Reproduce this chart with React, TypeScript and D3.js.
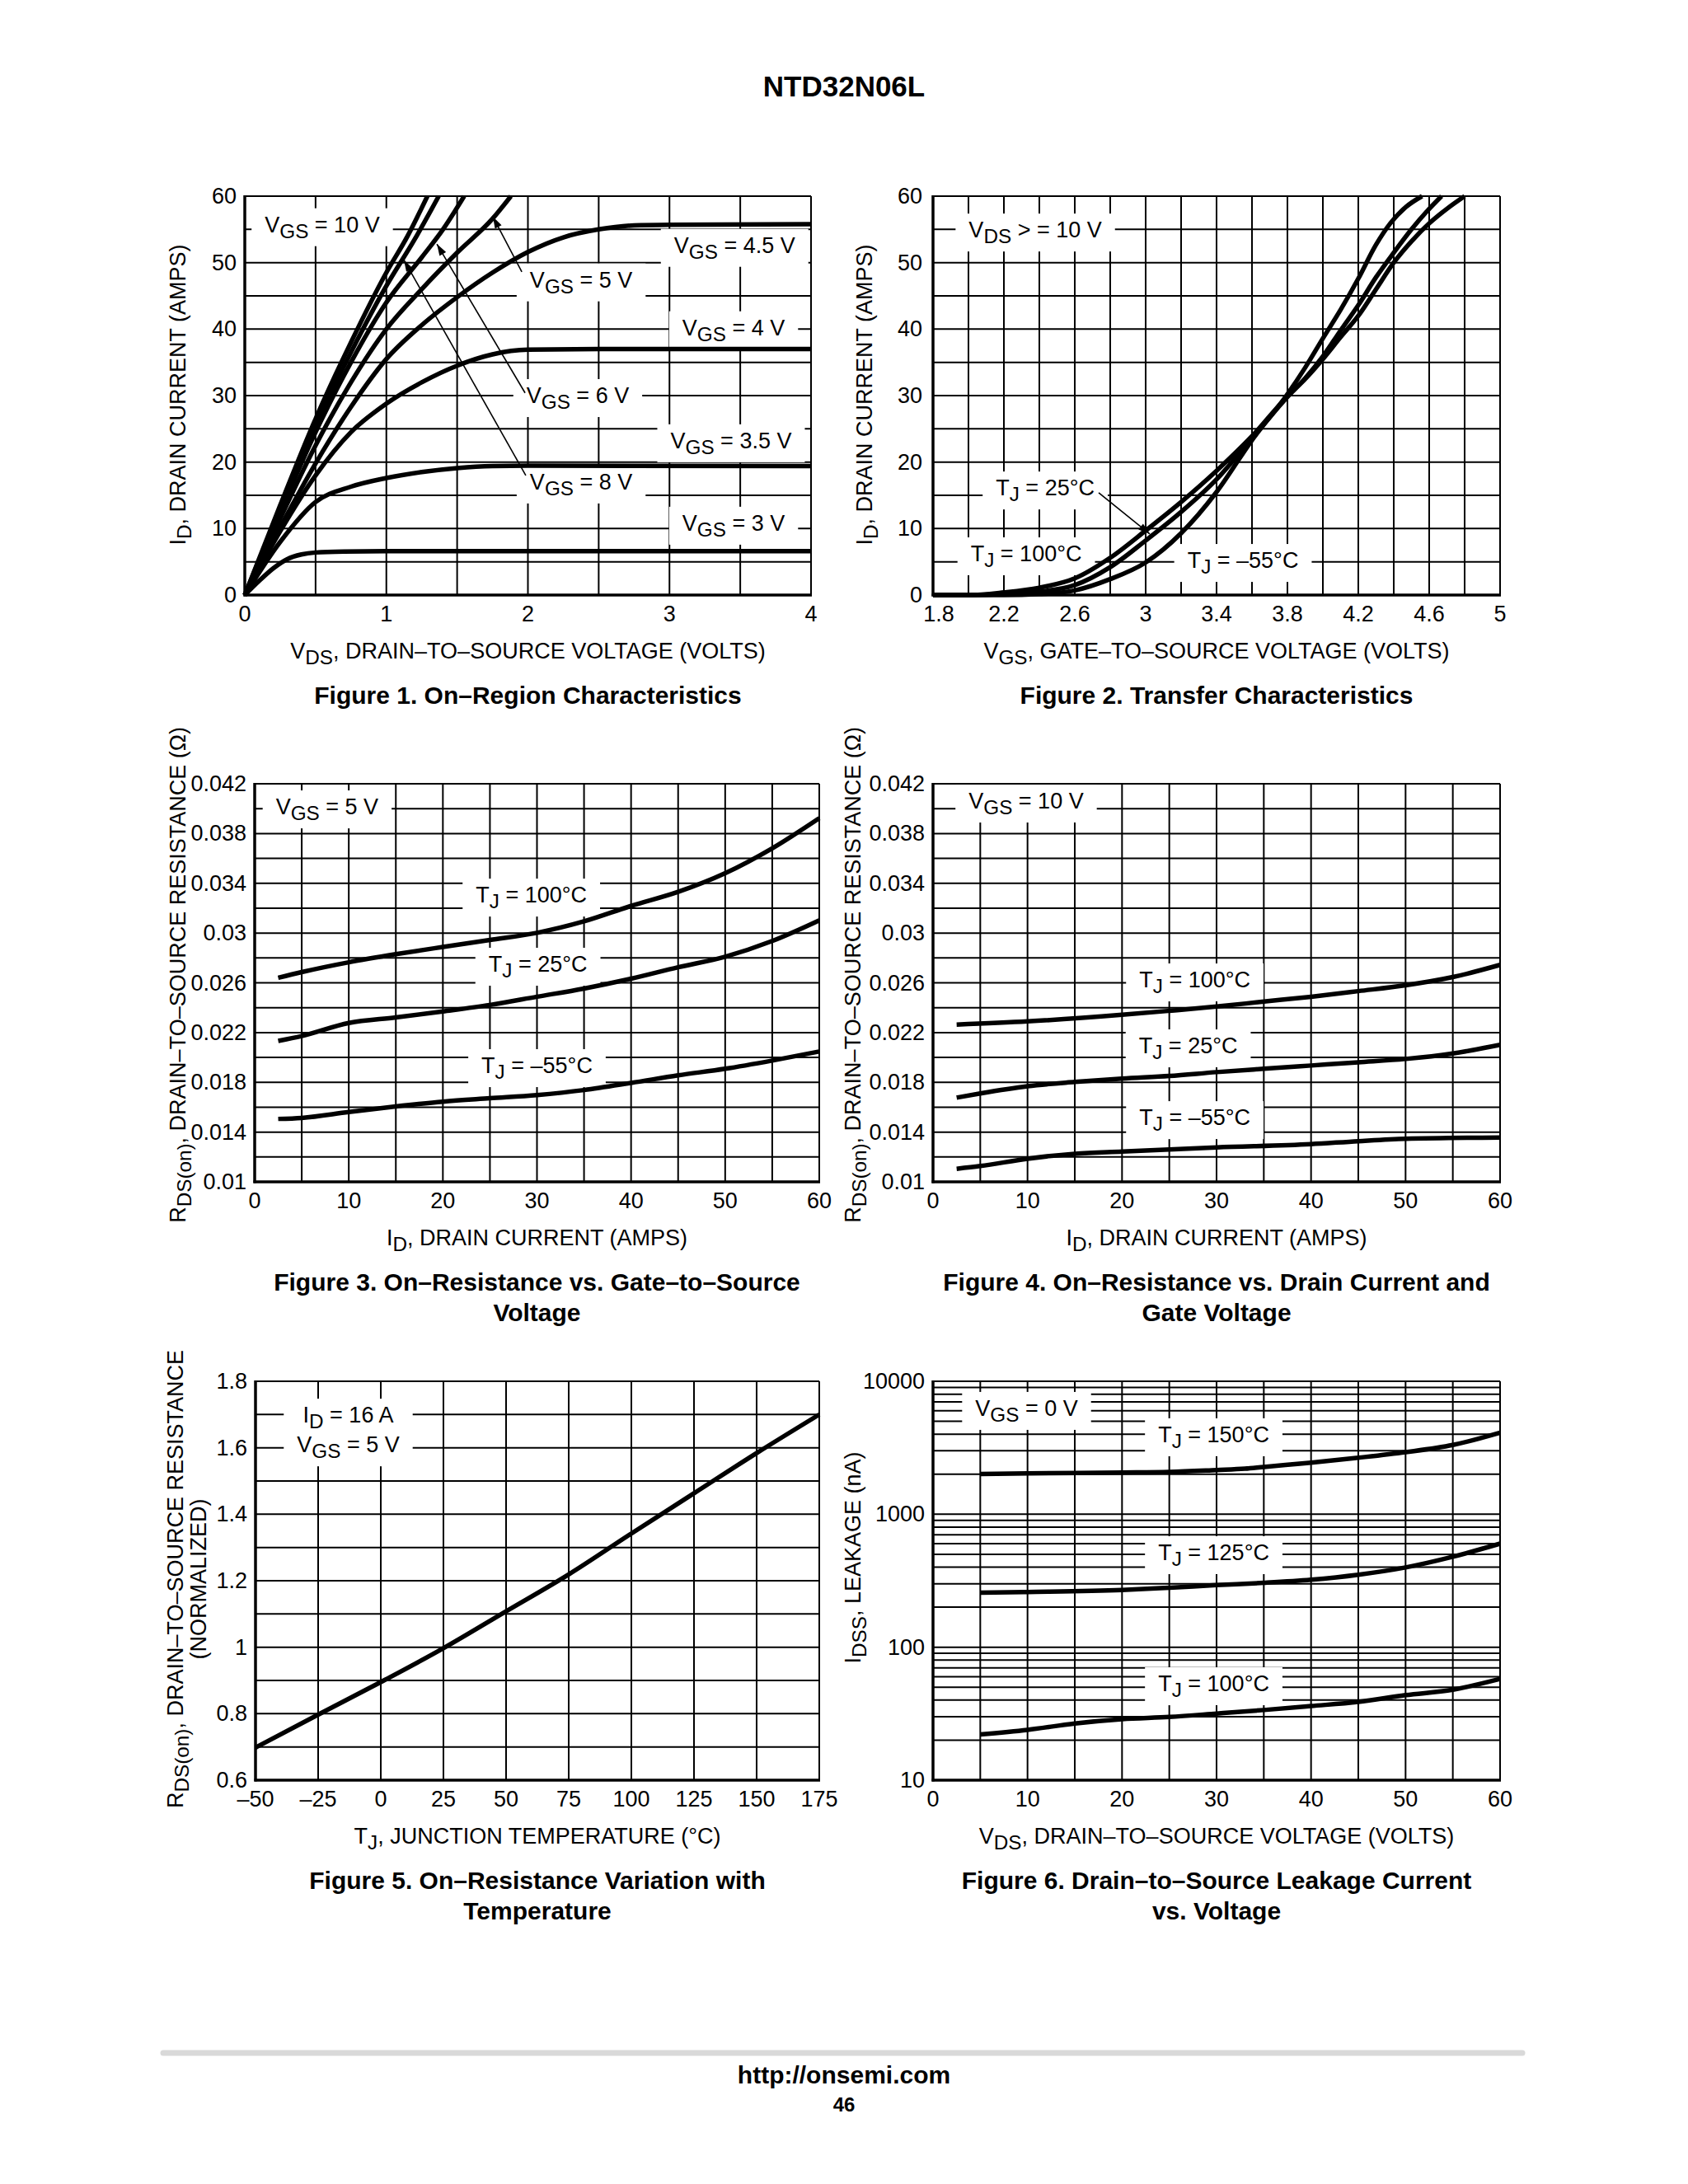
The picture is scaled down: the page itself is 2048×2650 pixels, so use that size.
import { useEffect, useRef } from 'react';
import * as d3 from 'd3';

type Pt = [number, number];
type Part = [string, boolean]; // [text, subscript]

const FONT = "'Liberation Sans', Arial, Helvetica, sans-serif";
const FS = 27;

// ---------- Figure 1: On-Region Characteristics (VDS [V], ID [A]) ----------
const f1XTicks = [0, 1, 2, 3, 4];
const f1YTicks = [0, 10, 20, 30, 40, 50, 60];
const f1Vgs10: Pt[] = [[0, 0], [0.25, 13.5], [0.5, 26.5], [0.75, 38], [1.0, 48.5], [1.15, 54], [1.29, 60]];
const f1Vgs8: Pt[] = [[0, 0], [0.25, 13], [0.5, 25.5], [0.75, 36.5], [1.0, 46.5], [1.2, 53.5], [1.37, 60]];
const f1Vgs6: Pt[] = [[0, 0], [0.25, 12.5], [0.5, 24.5], [0.75, 35], [1.0, 44], [1.25, 50.8], [1.4, 55], [1.55, 60]];
const f1Vgs5: Pt[] = [[0, 0], [0.25, 11.5], [0.5, 22.5], [0.75, 32], [1.0, 40], [1.25, 46], [1.5, 51.5], [1.75, 56.6], [1.88, 60]];
const f1Vgs45: Pt[] = [[0, 0], [0.25, 10.2], [0.5, 19.8], [0.75, 28.3], [1.0, 35.5], [1.25, 40.6], [1.5, 44.8], [1.75, 48.5], [2.0, 51.6], [2.25, 53.8], [2.5, 55], [2.75, 55.6], [3.0, 55.7], [4.0, 55.8]];
const f1Vgs4: Pt[] = [[0, 0], [0.25, 9.6], [0.5, 18], [0.75, 24.5], [1.0, 28.8], [1.25, 32], [1.5, 34.5], [1.75, 36.2], [2.0, 36.9], [2.5, 37], [4.0, 37]];
const f1Vgs35: Pt[] = [[0, 0], [0.25, 8], [0.5, 14], [0.75, 16.3], [1.0, 17.6], [1.25, 18.5], [1.5, 19.1], [1.75, 19.4], [2.0, 19.45], [4.0, 19.4]];
const f1Vgs3: Pt[] = [[0, 0], [0.1, 2.1], [0.2, 4], [0.3, 5.4], [0.4, 6.1], [0.5, 6.4], [0.7, 6.55], [1.0, 6.6], [4.0, 6.6]];

// ---------- Figure 2: Transfer Characteristics (VGS [V], ID [A]) ----------
const f2XTicks = [1.8, 2.2, 2.6, 3, 3.4, 3.8, 4.2, 4.6, 5];
const f2Tj100: Pt[] = [[1.8, 0], [2.0, 0], [2.2, 0.4], [2.4, 1.1], [2.6, 2.5], [2.8, 5.6], [3.0, 9.7], [3.2, 14.0], [3.4, 18.7], [3.6, 23.9], [3.8, 29.9], [3.9, 32.5], [4.0, 35.5], [4.1, 38.8], [4.2, 42], [4.3, 46], [4.4, 50], [4.5, 53.2], [4.6, 55.9], [4.7, 58.1], [4.8, 60]];
const f2Tj25: Pt[] = [[1.8, 0], [2.0, 0], [2.2, 0.15], [2.4, 0.5], [2.6, 1.5], [2.8, 4.2], [3.0, 8.2], [3.2, 12.5], [3.4, 17.4], [3.6, 23.6], [3.8, 29.8], [3.9, 32.6], [4.0, 35.9], [4.1, 39.8], [4.2, 43.6], [4.3, 47.8], [4.4, 51.5], [4.5, 55], [4.59, 57.8], [4.67, 60]];
const f2TjM55: Pt[] = [[1.8, 0], [2.2, 0], [2.4, 0.15], [2.6, 0.7], [2.8, 2.4], [3.0, 4.9], [3.2, 9.3], [3.4, 15.5], [3.6, 23.3], [3.8, 30.2], [3.9, 34.2], [4.0, 38.6], [4.1, 42.9], [4.2, 47.6], [4.3, 52.7], [4.38, 55.9], [4.47, 58.4], [4.56, 60]];

// ---------- Figure 3: RDS(on) vs ID, VGS = 5 V ----------
const idTicks = [0, 10, 20, 30, 40, 50, 60];
const rdsTicks = [0.01, 0.014, 0.018, 0.022, 0.026, 0.03, 0.034, 0.038, 0.042];
const f3Tj100: Pt[] = [[2.5, 0.0264], [5, 0.02686], [10, 0.02765], [15, 0.0283], [20, 0.02888], [25, 0.02944], [30, 0.03002], [35, 0.03094], [40, 0.03218], [45, 0.03331], [50, 0.03481], [55, 0.03681], [60, 0.03923]];
const f3Tj25: Pt[] = [[2.5, 0.02133], [5, 0.02172], [10, 0.02277], [15, 0.02322], [20, 0.0237], [25, 0.02422], [30, 0.02488], [35, 0.02554], [40, 0.02633], [45, 0.02725], [50, 0.0281], [55, 0.02936], [60, 0.03102]];
const f3TjM55: Pt[] = [[2.5, 0.01506], [5, 0.01514], [10, 0.01561], [15, 0.01606], [20, 0.01645], [25, 0.01672], [30, 0.01698], [35, 0.01738], [40, 0.01795], [45, 0.01856], [50, 0.01909], [55, 0.01975], [60, 0.02048]];

// ---------- Figure 4: RDS(on) vs ID, VGS = 10 V ----------
const f4Tj100: Pt[] = [[2.5, 0.02264], [10, 0.0229], [20, 0.02343], [25, 0.02375], [30, 0.02409], [35, 0.02449], [40, 0.02488], [45, 0.02533], [50, 0.0258], [55, 0.02646], [60, 0.02744]];
const f4Tj25: Pt[] = [[2.5, 0.01677], [5, 0.01711], [10, 0.01769], [15, 0.01803], [20, 0.0183], [25, 0.01851], [30, 0.01882], [35, 0.01909], [40, 0.01935], [45, 0.01961], [50, 0.01988], [55, 0.02032], [60, 0.02101]];
const f4TjM55: Pt[] = [[2.5, 0.01105], [5, 0.01127], [10, 0.01186], [15, 0.01226], [20, 0.01244], [30, 0.01277], [40, 0.01303], [45, 0.01327], [50, 0.01346], [60, 0.01356]];

// ---------- Figure 5: normalized RDS(on) vs TJ ----------
const tjTicks = [-50, -25, 0, 25, 50, 75, 100, 125, 150, 175];
const normTicks = [0.6, 0.8, 1, 1.2, 1.4, 1.6, 1.8];
const f5Norm: Pt[] = [[-50, 0.698], [-25, 0.797], [0, 0.895], [25, 0.997], [50, 1.108], [75, 1.219], [100, 1.342], [125, 1.463], [150, 1.584], [175, 1.7]];

// ---------- Figure 6: IDSS leakage vs VDS ----------
const vdsTicks6 = [0, 10, 20, 30, 40, 50, 60];
const leakTicks = [10, 100, 1000, 10000];
const f6Tj150: Pt[] = [[5, 2005], [10, 2030], [20, 2060], [25, 2080], [30, 2150], [33, 2200], [35, 2270], [40, 2440], [45, 2660], [50, 2930], [55, 3320], [60, 4110]];
const f6Tj125: Pt[] = [[5, 257], [10, 260], [20, 269], [25, 280], [30, 293], [35, 305], [40, 322], [45, 351], [50, 398], [55, 479], [60, 601]];
const f6Tj100: Pt[] = [[5, 22.1], [10, 23.9], [15, 26.7], [20, 28.8], [25, 29.9], [30, 31.7], [35, 33.7], [40, 36.1], [45, 38.8], [50, 43.6], [55, 47.9], [60, 57.7]];

const V = (sub: string, rest: string): Part[] => [['V', false], [sub, true], [rest, false]];
const T = (rest: string): Part[] => [['T', false], ['J', true], [rest, false]];
const RDS_TITLE: Part[] = [['R', false], ['DS(on)', true], [', DRAIN\u2013TO\u2013SOURCE RESISTANCE (\u03A9)', false]];

interface Label { x: number; y: number; lines: Part[][] }
interface Chart {
  x: any; y: any;
  xGrid: number[]; yGrid: number[];
  xTicks: number[]; yTicks: number[];
  xFmt: (v: number) => string; yFmt: (v: number) => string;
  firstXDx?: number; yTickGap?: number;
  series: Pt[][];
  labels: Label[];
  arrows: [Pt, Pt][];
  xTitle: Part[];
  yTitles: { parts: Part[]; dx: number }[];
  yTitleCy: number;
  caption: string[];
}

function rich(sel: any, parts: Part[], size: number) {
  let down = false;
  parts.forEach(([s, sub]) => {
    const ts = sel.append('tspan').text(s).attr('font-size', sub ? size * 0.9 : size);
    if (sub && !down) { ts.attr('dy', size * 0.26); down = true; }
    else if (!sub && down) { ts.attr('dy', -size * 0.26); down = false; }
  });
}

function drawChart(svg: any, c: Chart) {
  const [x0, x1] = c.x.range();
  const [yb, yt] = c.y.range();
  const g = svg.append('g');

  const grid = g.append('g').attr('stroke', '#000').attr('stroke-width', 2);
  c.xGrid.forEach(v => grid.append('line').attr('x1', c.x(v)).attr('x2', c.x(v)).attr('y1', yt).attr('y2', yb));
  c.yGrid.forEach(v => grid.append('line').attr('x1', x0).attr('x2', x1).attr('y1', c.y(v)).attr('y2', c.y(v)));
  g.append('line').attr('x1', x0).attr('x2', x0).attr('y1', yt - 1).attr('y2', yb + 1.5).attr('stroke', '#000').attr('stroke-width', 3.5);
  g.append('line').attr('x1', x0 - 1.5).attr('x2', x1 + 1).attr('y1', yb).attr('y2', yb).attr('stroke', '#000').attr('stroke-width', 3.5);

  const boxes = g.append('g');
  const curves = g.append('g');
  const texts = g.append('g').attr('font-family', FONT).attr('fill', '#000').style('white-space', 'pre');

  // in-plot labels with white boxes that cut the grid
  c.labels.forEach(l => {
    const lg = texts.append('g');
    l.lines.forEach((parts, i) => {
      const t = lg.append('text').attr('x', c.x(l.x)).attr('y', c.y(l.y) + 9 + i * 36).attr('text-anchor', 'middle');
      rich(t, parts, FS);
    });
    const bb = (lg.node() as SVGGElement).getBBox();
    boxes.append('rect').attr('x', bb.x - 16).attr('y', bb.y - 5).attr('width', bb.width + 32).attr('height', bb.height + 10).attr('fill', '#fff');
  });

  const line = d3.line<Pt>().x(d => c.x(d[0])).y(d => c.y(d[1])).curve(d3.curveMonotoneX);
  c.series.forEach(s => {
    curves.append('path').attr('d', line(s)).attr('fill', 'none').attr('stroke', '#000')
      .attr('stroke-width', 5.5).attr('stroke-linejoin', 'round').attr('stroke-linecap', 'butt');
  });

  c.arrows.forEach(([from, to]) => {
    curves.append('line').attr('x1', c.x(from[0])).attr('y1', c.y(from[1])).attr('x2', c.x(to[0])).attr('y2', c.y(to[1]))
      .attr('stroke', '#000').attr('stroke-width', 1.6).attr('marker-end', 'url(#arrowHead)');
  });

  const gap = c.yTickGap ?? 10;
  c.yTicks.forEach(v => {
    texts.append('text').attr('x', x0 - gap).attr('y', c.y(v) + 9).attr('text-anchor', 'end').attr('font-size', FS).text(c.yFmt(v));
  });
  c.xTicks.forEach((v, i) => {
    const dx = i === 0 ? (c.firstXDx ?? 0) : 0;
    texts.append('text').attr('x', c.x(v) + dx).attr('y', yb + 32).attr('text-anchor', 'middle').attr('font-size', FS).text(c.xFmt(v));
  });

  const cx = (x0 + x1) / 2;
  rich(texts.append('text').attr('x', cx).attr('y', yb + 77).attr('text-anchor', 'middle'), c.xTitle, FS);
  c.yTitles.forEach(yt2 => {
    const t = texts.append('text').attr('text-anchor', 'middle')
      .attr('transform', `translate(${x0 + yt2.dx},${c.yTitleCy}) rotate(-90)`);
    rich(t, yt2.parts, FS);
  });
  c.caption.forEach((s, i) => {
    texts.append('text').attr('x', cx).attr('y', yb + 132 + i * 37).attr('text-anchor', 'middle')
      .attr('font-size', 30).attr('font-weight', 'bold').text(s);
  });
}

export default function App() {
  const svgRef = useRef<SVGSVGElement>(null);

  useEffect(() => {
    if (!svgRef.current) return;
    const svg = d3.select(svgRef.current);
    svg.selectAll('*').remove();

    svg.append('rect').attr('width', 2048).attr('height', 2650).attr('fill', '#fff');
    svg.append('defs').append('marker').attr('id', 'arrowHead').attr('viewBox', '0 0 14 9')
      .attr('refX', 14).attr('refY', 4.5).attr('markerWidth', 16).attr('markerHeight', 9)
      .attr('markerUnits', 'userSpaceOnUse').attr('orient', 'auto')
      .append('path').attr('d', 'M0,0 L14,4.5 L0,9 Z').attr('fill', '#000');

    svg.append('text').attr('x', 1024).attr('y', 117).attr('text-anchor', 'middle').attr('font-family', FONT)
      .attr('font-weight', 'bold').attr('font-size', 35).text('NTD32N06L');

    const n = (v: number) => String(+v.toFixed(3));
    const grid5 = d3.range(0, 61, 5);
    const rdsGrid = d3.range(0, 17).map(i => 0.01 + i * 0.002);
    const ID_TITLE: Part[] = [['I', false], ['D', true], [', DRAIN CURRENT (AMPS)', false]];

    // Figure 1
    drawChart(svg, {
      x: d3.scaleLinear([0, 4], [297, 984]), y: d3.scaleLinear([0, 60], [722, 238]),
      xGrid: d3.range(0, 9).map(i => i * 0.5), yGrid: d3.range(0, 61, 5),
      xTicks: f1XTicks, yTicks: f1YTicks, xFmt: n, yFmt: n,
      series: [f1Vgs10, f1Vgs8, f1Vgs6, f1Vgs5, f1Vgs45, f1Vgs4, f1Vgs35, f1Vgs3],
      labels: [
        { x: 0.547, y: 55.7, lines: [V('GS', ' = 10 V')] },
        { x: 3.46, y: 52.6, lines: [V('GS', ' = 4.5 V')] },
        { x: 2.376, y: 47.4, lines: [V('GS', ' = 5 V')] },
        { x: 3.453, y: 40.2, lines: [V('GS', ' = 4 V')] },
        { x: 2.352, y: 30.0, lines: [V('GS', ' = 6 V')] },
        { x: 3.435, y: 23.2, lines: [V('GS', ' = 3.5 V')] },
        { x: 2.376, y: 17.0, lines: [V('GS', ' = 8 V')] },
        { x: 3.453, y: 10.8, lines: [V('GS', ' = 3 V')] },
      ],
      arrows: [
        [[1.957, 48.6], [1.753, 56.9]],
        [[1.98, 30.4], [1.357, 52.8]],
        [[1.985, 18.0], [1.124, 50.4]],
      ],
      xTitle: V('DS', ', DRAIN\u2013TO\u2013SOURCE VOLTAGE (VOLTS)'),
      yTitles: [{ parts: ID_TITLE, dx: -72 }], yTitleCy: 479,
      caption: ['Figure 1. On\u2013Region Characteristics'],
    });

    // Figure 2
    drawChart(svg, {
      x: d3.scaleLinear([1.8, 5], [1132, 1820]), y: d3.scaleLinear([0, 60], [722, 238]),
      xGrid: d3.range(0, 17).map(i => 1.8 + i * 0.2), yGrid: d3.range(0, 61, 5),
      xTicks: f2XTicks, yTicks: f1YTicks, xFmt: n, yFmt: n, firstXDx: 7, yTickGap: 13,
      series: [f2Tj100, f2Tj25, f2TjM55],
      labels: [
        { x: 2.377, y: 54.9, lines: [V('DS', ' > = 10 V')] },
        { x: 2.433, y: 16.1, lines: [T(' = 25\u00B0C')] },
        { x: 2.326, y: 6.2, lines: [T(' = 100\u00B0C')] },
        { x: 3.549, y: 5.2, lines: [T(' = \u201355\u00B0C')] },
      ],
      arrows: [[[2.735, 15.4], [3.023, 9.2]]],
      xTitle: V('GS', ', GATE\u2013TO\u2013SOURCE VOLTAGE (VOLTS)'),
      yTitles: [{ parts: ID_TITLE, dx: -74 }], yTitleCy: 479,
      caption: ['Figure 2. Transfer Characteristics'],
    });

    // Figure 3
    drawChart(svg, {
      x: d3.scaleLinear([0, 60], [309, 994]), y: d3.scaleLinear([0.01, 0.042], [1434, 951]),
      xGrid: grid5, yGrid: rdsGrid,
      xTicks: idTicks, yTicks: rdsTicks, xFmt: n, yFmt: n,
      series: [f3Tj100, f3Tj25, f3TjM55],
      labels: [
        { x: 7.7, y: 0.04014, lines: [V('GS', ' = 5 V')] },
        { x: 29.4, y: 0.03305, lines: [T(' = 100\u00B0C')] },
        { x: 30.1, y: 0.02749, lines: [T(' = 25\u00B0C')] },
        { x: 30.0, y: 0.01934, lines: [T(' = \u201355\u00B0C')] },
      ],
      arrows: [],
      xTitle: ID_TITLE,
      yTitles: [{ parts: RDS_TITLE, dx: -84 }], yTitleCy: 1183,
      caption: ['Figure 3. On\u2013Resistance vs. Gate\u2013to\u2013Source', 'Voltage'],
    });

    // Figure 4
    drawChart(svg, {
      x: d3.scaleLinear([0, 60], [1132, 1820]), y: d3.scaleLinear([0.01, 0.042], [1434, 951]),
      xGrid: grid5, yGrid: rdsGrid,
      xTicks: idTicks, yTicks: rdsTicks, xFmt: n, yFmt: n,
      series: [f4Tj100, f4Tj25, f4TjM55],
      labels: [
        { x: 9.85, y: 0.04061, lines: [V('GS', ' = 10 V')] },
        { x: 27.7, y: 0.02623, lines: [T(' = 100\u00B0C')] },
        { x: 27.0, y: 0.02093, lines: [T(' = 25\u00B0C')] },
        { x: 27.7, y: 0.01516, lines: [T(' = \u201355\u00B0C')] },
      ],
      arrows: [],
      xTitle: ID_TITLE,
      yTitles: [{ parts: RDS_TITLE, dx: -88 }], yTitleCy: 1183,
      caption: ['Figure 4. On\u2013Resistance vs. Drain Current and', 'Gate Voltage'],
    });

    // Figure 5
    drawChart(svg, {
      x: d3.scaleLinear([-50, 175], [310, 994]), y: d3.scaleLinear([0.6, 1.8], [2160, 1676]),
      xGrid: tjTicks, yGrid: d3.range(0, 13).map(i => 0.6 + i * 0.1),
      xTicks: tjTicks, yTicks: normTicks, xFmt: v => (v < 0 ? '\u2013' + Math.abs(v) : String(v)), yFmt: n,
      series: [f5Norm],
      labels: [
        { x: -13, y: 1.698, lines: [[['I', false], ['D', true], [' = 16 A', false]], V('GS', ' = 5 V')] },
      ],
      arrows: [],
      xTitle: T(', JUNCTION TEMPERATURE (\u00B0C)'),
      yTitles: [
        { parts: [['R', false], ['DS(on)', true], [', DRAIN\u2013TO\u2013SOURCE RESISTANCE', false]], dx: -88 },
        { parts: [['(NORMALIZED)', false]], dx: -60 },
      ],
      yTitleCy: 1916,
      caption: ['Figure 5. On\u2013Resistance Variation with', 'Temperature'],
    });

    // Figure 6
    const logGrid: number[] = [];
    [10, 100, 1000].forEach(d => d3.range(1, 10).forEach(k => logGrid.push(k * d)));
    logGrid.push(10000);
    drawChart(svg, {
      x: d3.scaleLinear([0, 60], [1132, 1820]), y: d3.scaleLog([10, 10000], [2160, 1676]),
      xGrid: grid5, yGrid: logGrid,
      xTicks: vdsTicks6, yTicks: leakTicks, xFmt: n, yFmt: v => String(v),
      series: [f6Tj150, f6Tj125, f6Tj100],
      labels: [
        { x: 9.9, y: 6250, lines: [V('GS', ' = 0 V')] },
        { x: 29.7, y: 3960, lines: [T(' = 150\u00B0C')] },
        { x: 29.7, y: 514, lines: [T(' = 125\u00B0C')] },
        { x: 29.7, y: 53.1, lines: [T(' = 100\u00B0C')] },
      ],
      arrows: [],
      xTitle: V('DS', ', DRAIN\u2013TO\u2013SOURCE VOLTAGE (VOLTS)'),
      yTitles: [{ parts: [['I', false], ['DSS', true], [', LEAKAGE (nA)', false]], dx: -88 }], yTitleCy: 1890,
      caption: ['Figure 6. Drain\u2013to\u2013Source Leakage Current', 'vs. Voltage'],
    });

    // footer
    svg.append('line').attr('x1', 198).attr('x2', 1847).attr('y1', 2491).attr('y2', 2491)
      .attr('stroke', '#d9d9d9').attr('stroke-width', 7).attr('stroke-linecap', 'round');
    svg.append('text').attr('x', 1024).attr('y', 2528).attr('text-anchor', 'middle').attr('font-family', FONT)
      .attr('font-weight', 'bold').attr('font-size', 30).text('http://onsemi.com');
    svg.append('text').attr('x', 1024).attr('y', 2562).attr('text-anchor', 'middle').attr('font-family', FONT)
      .attr('font-weight', 'bold').attr('font-size', 24).text('46');
  }, []);

  return (
    <svg ref={svgRef} width={2048} height={2650}
      style={{ position: 'absolute', left: 0, top: 0, display: 'block' }} />
  );
}
